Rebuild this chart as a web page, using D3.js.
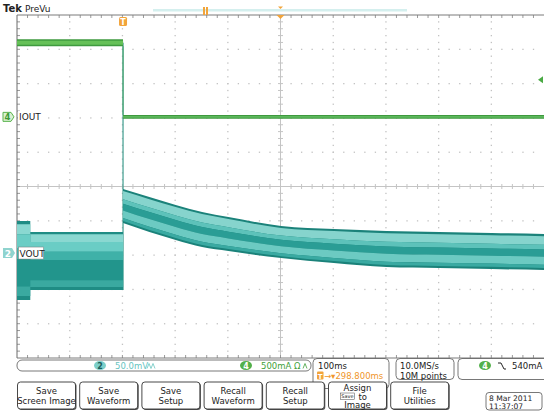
<!DOCTYPE html>
<html><head><meta charset="utf-8">
<script src="https://cdn.jsdelivr.net/npm/d3@7"></script>
<style>
body{margin:0;background:#fff;overflow:hidden}
svg{display:block}
text{font-family:"DejaVu Sans",sans-serif}
</style>
</head><body>
<script>
// ---------------- data ----------------
const timeRangeMs = [-201.2, 798.8];          // 100 ms/div, trigger 2 div from left
const ioutTime   = [-201.2, 0, 0, 798.8];
const ioutHiMa   = [1130, 1130, 29, 29];
const ioutLoMa   = [1030, 1030, -29, -29];
const voutPreTime  = [-201.2, -176, -176, 0];
const voutPreHiMv  = [46.6, 46.6, 30.6, 30.6];
const voutPreLoMv  = [-68.5, -68.5, -53.9, -53.9];
const voutPostTime = [0, 50, 100, 150, 200, 300, 400, 500, 600, 700, 798.8];
const voutPostHiMv = [93.3, 81.6, 70.0, 59.8, 52.5, 39.4, 35.0, 32.1, 30.6, 29.2, 27.7];
const voutPostLoMv = [43.7, 30.6, 19.0, 8.7, 2.9, -7.3, -14.6, -20.4, -21.9, -23.3, -24.8];
const ch2ScaleMv = 50, ch2PosDiv = -1.94;
const ch4ScaleMa = 500, ch4PosDiv = 2.03;
const triggerLevelMa = 540;
const buttonLabels = [["Save","Screen Image"],["Save","Waveform"],["Save","Setup"],["Recall","Waveform"],["Recall","Setup"],["Assign","to","Image"],["File","Utilities"]];

// ---------------- layout ----------------
const W = 544, H = 413;
const gL = 17, gR = 544, gT = 15, gB = 358;
const svg = d3.select("body").append("svg").attr("width", W).attr("height", H);

const x = d3.scaleLinear().domain(timeRangeMs).range([gL, gR]);
const yDiv = d3.scaleLinear().domain([-5, 5]).range([gB, gT]);
const yV = mv => yDiv(ch2PosDiv + mv / ch2ScaleMv);
const yI = ma => yDiv(ch4PosDiv + ma / ch4ScaleMa);
const dx = (gR - gL) / 10, dy = (gB - gT) / 10;

// ---------------- graticule ----------------
const grid = svg.append("g");
for (let i = 1; i < 10; i++) {
  if (i === 5) continue;
  const gx = gL + i * dx;
  for (let k = 1; k < 50; k++) {
    grid.append("rect").attr("x", gx - 0.6).attr("y", gT + k * dy / 5 - 0.6)
      .attr("width", 1.3).attr("height", 1.3).attr("fill", "#c2c2c2");
  }
}
for (let j = 1; j < 10; j++) {
  if (j === 5) continue;
  const gy = gT + j * dy;
  for (let k = 1; k < 50; k++) {
    grid.append("rect").attr("x", gL + k * dx / 5 - 0.6).attr("y", gy - 0.6)
      .attr("width", 1.3).attr("height", 1.3).attr("fill", "#c2c2c2");
  }
}
const cx = gL + 5 * dx, cy = gT + 5 * dy;
grid.append("line").attr("x1", gL).attr("x2", gR).attr("y1", cy).attr("y2", cy).attr("stroke", "#c4c4c4");
grid.append("line").attr("x1", cx).attr("x2", cx).attr("y1", gT).attr("y2", gB).attr("stroke", "#c4c4c4");
for (let k = 1; k < 50; k++) {
  const tx = gL + k * dx / 5;
  grid.append("line").attr("x1", tx).attr("x2", tx).attr("y1", cy - 2.5).attr("y2", cy + 2.5).attr("stroke", "#c4c4c4");
  grid.append("line").attr("x1", tx).attr("x2", tx).attr("y1", gT).attr("y2", gT + 3).attr("stroke", "#9a9a9a");
  grid.append("line").attr("x1", tx).attr("x2", tx).attr("y1", gB - 3).attr("y2", gB).attr("stroke", "#9a9a9a");
  const ty = gT + k * dy / 5;
  grid.append("line").attr("x1", cx - 2.5).attr("x2", cx + 2.5).attr("y1", ty).attr("y2", ty).attr("stroke", "#c4c4c4");
  grid.append("line").attr("x1", gL).attr("x2", gL + 3).attr("y1", ty).attr("y2", ty).attr("stroke", "#9a9a9a");
}
grid.append("line").attr("x1", gL).attr("x2", gR).attr("y1", gT).attr("y2", gT).attr("stroke", "#7a7a7a");
grid.append("line").attr("x1", gL).attr("x2", gR).attr("y1", gB).attr("y2", gB).attr("stroke", "#7a7a7a");
grid.append("line").attr("x1", gL).attr("x2", gL).attr("y1", gT).attr("y2", gB).attr("stroke", "#6a6a6a");

// ---------------- waveforms ----------------
const wave = svg.append("g");
function band(times, hi, lo, yFn, profile, curve) {
  const pts = times.map((t, i) => ({ x: x(t), top: yFn(hi[i]), bot: yFn(lo[i]) }));
  profile.forEach(([f0, f1, col]) => {
    const a = d3.area().curve(curve || d3.curveLinear).x(d => d.x)
      .y0(d => d.top + f0 * (d.bot - d.top))
      .y1(d => d.top + f1 * (d.bot - d.top));
    wave.append("path").attr("d", a(pts)).attr("fill", col);
  });
}
const preProfile = [[0,1,"#1f8c84"],[0.04,0.17,"#8ad8d1"],[0.17,0.34,"#6acdc5"],[0.34,0.48,"#3fb1a8"],[0.48,0.83,"#22958c"],[0.83,0.95,"#3aa9a0"]];
const postProfile = [[0,1,"#1b827a"],[0.06,0.3,"#86d4cd"],[0.3,0.43,"#5dc2ba"],[0.43,0.63,"#2a9d95"],[0.63,0.85,"#6ccac2"],[0.85,0.94,"#3aaaa2"]];

// step edge line
wave.append("line").attr("x1", x(0)).attr("x2", x(0))
  .attr("y1", yI((ioutHiMa[1] + ioutLoMa[1]) / 2)).attr("y2", yV(voutPreLoMv[3]))
  .attr("stroke", "#3f9c8e").attr("stroke-width", 1.2);

band(voutPreTime, voutPreHiMv, voutPreLoMv, yV, preProfile);
band(voutPostTime, voutPostHiMv, voutPostLoMv, yV, postProfile, d3.curveMonotoneX);

// IOUT
band(ioutTime.slice(0, 2), ioutHiMa.slice(0, 2), ioutLoMa.slice(0, 2), yI,
  [[0,1,"#3f9a3f"],[0.2,0.8,"#66c158"]]);
band(ioutTime.slice(2), ioutHiMa.slice(2), ioutLoMa.slice(2), yI,
  [[0,1,"#3e993e"],[0.3,0.7,"#5cb85c"]]);
wave.append("line").attr("x1", x(0)).attr("x2", x(0))
  .attr("y1", yI(ioutLoMa[1])).attr("y2", yI(ioutHiMa[2]))
  .attr("stroke", "#4aa56a").attr("stroke-width", 1);

// ---------------- channel labels & markers ----------------
const y4 = yDiv(ch4PosDiv);
svg.append("path").attr("d", `M3,${y4-4.5}h8l3,4.5l-3,4.5h-8z`).attr("fill", "#d9f0d2").attr("stroke", "#5ab34e");
svg.append("text").attr("x", 7.5).attr("y", y4 + 3.3).attr("text-anchor", "middle").attr("font-size", 8.5).attr("font-weight", "bold").attr("fill", "#3d9a35").text("4");
svg.append("rect").attr("x", 18).attr("y", y4 - 6).attr("width", 22).attr("height", 12).attr("fill", "#fff");
svg.append("text").attr("x", 19).attr("y", y4 + 3.5).attr("font-size", 9).attr("fill", "#222").text("IOUT");
const y2 = yDiv(ch2PosDiv);
svg.append("path").attr("d", `M3,${y2-5}h9l3,5l-3,5h-9z`).attr("fill", "#8fd3ce");
svg.append("text").attr("x", 8).attr("y", y2 + 3.5).attr("text-anchor", "middle").attr("font-size", 9).attr("font-weight", "bold").attr("fill", "#fff").text("2");
svg.append("rect").attr("x", 18.5).attr("y", y2 - 6).attr("width", 25).attr("height", 12).attr("fill", "#fff").attr("stroke", "#777").attr("stroke-width", 0.5);
svg.append("text").attr("x", 19.5).attr("y", y2 + 3.5).attr("font-size", 9).attr("fill", "#222").text("VOUT");
const yT = yI(triggerLevelMa);
svg.append("path").attr("d", `M538,${yT}l5,-3.5v7z`).attr("fill", "#4aaa44");

// ---------------- top bar ----------------
svg.append("text").attr("x", 3).attr("y", 12).attr("font-size", 10).attr("font-weight", "bold").attr("fill", "#222").text("Tek");
svg.append("text").attr("x", 25).attr("y", 12).attr("font-size", 9).attr("fill", "#222").text("PreVu");
svg.append("rect").attr("x", 153).attr("y", 9).attr("width", 254).attr("height", 2.5).attr("fill", "#d4efee");
svg.append("rect").attr("x", 203).attr("y", 7).attr("width", 2).attr("height", 8).attr("fill", "#f2a43a");
svg.append("rect").attr("x", 206).attr("y", 7).attr("width", 2).attr("height", 8).attr("fill", "#f2a43a");
svg.append("path").attr("d", `M${cx-2.5},6.5h5l-2.5,2.5z`).attr("fill", "#f2a43a");
svg.append("path").attr("d", `M${cx-4},${gT}h8l-4,4z`).attr("fill", "#f2a43a");
svg.append("rect").attr("x", x(0) - 4).attr("y", 17).attr("width", 8).attr("height", 9).attr("rx", 1.5).attr("fill", "#f2a43a");
svg.append("text").attr("x", x(0)).attr("y", 24.5).attr("text-anchor", "middle").attr("font-size", 8).attr("font-weight", "bold").attr("fill", "#fff").text("T");

// ---------------- readouts ----------------
const ro = svg.append("g");
ro.append("rect").attr("x", 17).attr("y", 360).attr("width", 294).attr("height", 11).attr("rx", 5).attr("fill", "#fff").attr("stroke", "#555").attr("stroke-width", 0.8);
ro.append("ellipse").attr("cx", 100).attr("cy", 365.5).attr("rx", 6).attr("ry", 4.5).attr("fill", "#7ccfc9");
ro.append("text").attr("x", 100).attr("y", 368.5).attr("text-anchor", "middle").attr("font-size", 8).attr("font-weight", "bold").attr("fill", "#1d5d5a").text("2");
ro.append("text").attr("x", 115).attr("y", 369).attr("font-size", 8.5).attr("fill", "#67c4bf").text("50.0mV");
ro.append("path").attr("d", "M147,368.5l2,-5l2,5l2,-5l2,5").attr("fill", "none").attr("stroke", "#67c4bf").attr("stroke-width", 0.8);
ro.append("ellipse").attr("cx", 246).attr("cy", 365.5).attr("rx", 6).attr("ry", 4.5).attr("fill", "#52b04a");
ro.append("text").attr("x", 246).attr("y", 368.5).attr("text-anchor", "middle").attr("font-size", 8).attr("font-weight", "bold").attr("fill", "#fff").text("4");
ro.append("text").attr("x", 261).attr("y", 369).attr("font-size", 8.5).attr("fill", "#3f9f3a").text("500mA Ω");
ro.append("path").attr("d", "M303,368.5l2,-5l2,5").attr("fill", "none").attr("stroke", "#3f9f3a").attr("stroke-width", 0.8);

ro.append("rect").attr("x", 313).attr("y", 358.5).attr("width", 76).attr("height", 30).attr("rx", 4).attr("fill", "#fff").attr("stroke", "#555").attr("stroke-width", 0.8);
ro.append("text").attr("x", 318).attr("y", 368.5).attr("font-size", 8.5).attr("fill", "#222").text("100ms");
ro.append("rect").attr("x", 317).attr("y", 371.5).attr("width", 6.5).attr("height", 8).attr("rx", 1).attr("fill", "#f2a43a");
ro.append("text").attr("x", 320.2).attr("y", 378.5).attr("text-anchor", "middle").attr("font-size", 7).attr("font-weight", "bold").attr("fill", "#fff").text("T");
ro.append("text").attr("x", 324).attr("y", 379).attr("font-size", 8.5).attr("fill", "#f0962a").text("→▾298.800ms");

ro.append("rect").attr("x", 396).attr("y", 358.5).attr("width", 58).attr("height", 21).attr("rx", 4).attr("fill", "#fff").attr("stroke", "#555").attr("stroke-width", 0.8);
ro.append("text").attr("x", 400).attr("y", 368.5).attr("font-size", 8.5).attr("fill", "#222").text("10.0MS/s");
ro.append("text").attr("x", 400).attr("y", 378.5).attr("font-size", 8.5).attr("fill", "#222").text("10M points");

ro.append("rect").attr("x", 458).attr("y", 358.5).attr("width", 90).attr("height", 21).attr("rx", 4).attr("fill", "#fff").attr("stroke", "#555").attr("stroke-width", 0.8);
ro.append("ellipse").attr("cx", 485).attr("cy", 365.5).attr("rx", 6).attr("ry", 4.5).attr("fill", "#52b04a");
ro.append("text").attr("x", 485).attr("y", 368.5).attr("text-anchor", "middle").attr("font-size", 8).attr("font-weight", "bold").attr("fill", "#fff").text("4");
ro.append("path").attr("d", "M498,363h3l3,6h2").attr("fill", "none").attr("stroke", "#222").attr("stroke-width", 1);
ro.append("text").attr("x", 512).attr("y", 369).attr("font-size", 8.5).attr("fill", "#222").text("540mA");

// ---------------- buttons ----------------
const bw = 58, bgap = 4.2, bx0 = 17.5, by = 382, bh = 27;
buttonLabels.forEach((lines, i) => {
  const bx = bx0 + i * (bw + bgap);
  const g = svg.append("g");
  g.append("rect").attr("x", bx + 1).attr("y", by + 1).attr("width", bw).attr("height", bh).attr("rx", 3).attr("fill", "#555");
  g.append("rect").attr("x", bx).attr("y", by).attr("width", bw).attr("height", bh).attr("rx", 3).attr("fill", "#fff").attr("stroke", "#333").attr("stroke-width", 0.9);
  const mid = bx + bw / 2;
  if (lines.length === 2) {
    g.append("text").attr("x", mid).attr("y", by + 11.5).attr("text-anchor", "middle").attr("font-size", 8.5).attr("fill", "#222").text(lines[0]);
    g.append("text").attr("x", mid).attr("y", by + 22).attr("text-anchor", "middle").attr("font-size", 8.5).attr("fill", "#222").text(lines[1]);
  } else {
    g.append("text").attr("x", mid).attr("y", by + 8.5).attr("text-anchor", "middle").attr("font-size", 8.5).attr("fill", "#222").text(lines[0]);
    g.append("rect").attr("x", mid - 17).attr("y", by + 11).attr("width", 14).attr("height", 6.5).attr("fill", "#fff").attr("stroke", "#444").attr("stroke-width", 0.5);
    g.append("text").attr("x", mid - 10).attr("y", by + 16.3).attr("text-anchor", "middle").attr("font-size", 5).attr("fill", "#222").text("Save");
    g.append("text").attr("x", mid + 1).attr("y", by + 17.5).attr("font-size", 8.5).attr("fill", "#222").text(lines[1]);
    g.append("text").attr("x", mid).attr("y", by + 26).attr("text-anchor", "middle").attr("font-size", 8.5).attr("fill", "#222").text(lines[2]);
  }
});
// date
svg.append("rect").attr("x", 486).attr("y", 392.5).attr("width", 56).attr("height", 17.5).attr("rx", 3).attr("fill", "#fff").attr("stroke", "#555").attr("stroke-width", 0.8);
svg.append("text").attr("x", 489).attr("y", 400.5).attr("font-size", 7.6).attr("fill", "#222").text("8 Mar 2011");
svg.append("text").attr("x", 489).attr("y", 408.5).attr("font-size", 7.6).attr("fill", "#222").text("11:37:07");
</script>
</body></html>
